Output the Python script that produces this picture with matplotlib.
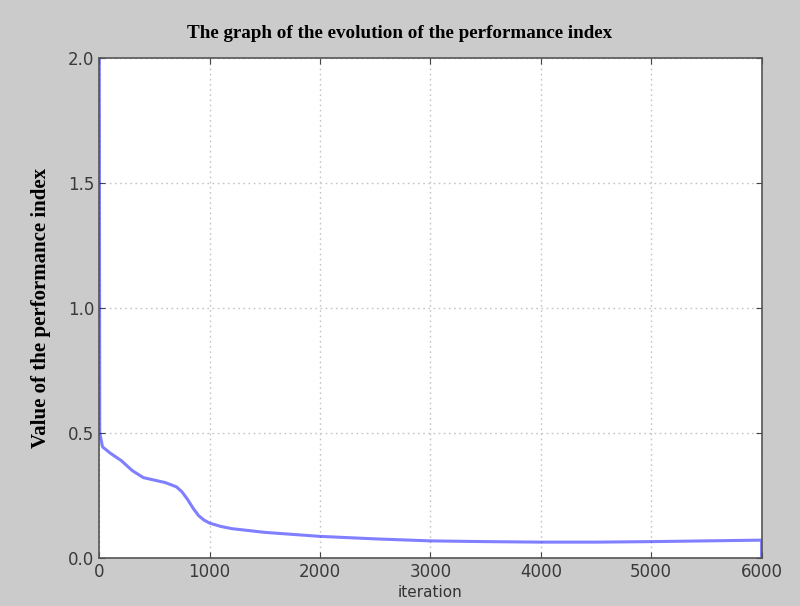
import matplotlib
matplotlib.use("Agg")
import matplotlib.pyplot as plt

iterations = [0, 5, 30, 100, 200, 300, 400, 500, 600, 700, 750, 800, 850, 900, 950,
              1000, 1100, 1200, 1500, 2000, 2500, 3000, 3500, 4000, 4500, 5000,
              5500, 6000, 6000]
perf_index = [2.3, 0.50, 0.445, 0.42, 0.39, 0.35, 0.322, 0.312, 0.302, 0.285, 0.265,
              0.235, 0.20, 0.17, 0.152, 0.14, 0.127, 0.118, 0.103, 0.087, 0.077,
              0.069, 0.066, 0.064, 0.064, 0.066, 0.069, 0.072, 0.0]
x_ticks = [0, 1000, 2000, 3000, 4000, 5000, 6000]
y_ticks = [0.0, 0.5, 1.0, 1.5, 2.0]

fig = plt.figure(figsize=(8.0, 6.06), dpi=100, facecolor="#cbcbcb")
ax = fig.add_axes([0.124, 0.079, 0.828, 0.825])
ax.set_facecolor("white")
ax.plot(iterations, perf_index, color="blue", alpha=0.5, linewidth=2.2)
ax.set_xlim(0, 6000)
ax.set_ylim(0, 2.0)
ax.set_xticks(x_ticks)
ax.set_yticks(y_ticks)
ax.set_yticklabels([f"{v:.1f}" for v in y_ticks])
ax.grid(True, linestyle=(0, (1.2, 2.5)), color="#c4c4c4", linewidth=1.0)
ax.tick_params(direction="in", length=4, top=True, right=True,
               labelsize=12, labelcolor="#3a3a3a", color="#444444")
for s in ax.spines.values():
    s.set_color("#555555")
    s.set_linewidth(1.2)

fig.text(0.5, 1 - 33 / 606, "The graph of the evolution of the performance index",
         family="Liberation Serif", fontweight="bold", fontsize=13.7,
         ha="center", va="center")
ax.set_ylabel("Value of the performance index", family="Liberation Serif",
              fontweight="bold", fontsize=15, labelpad=12)
ax.set_xlabel("iteration", fontsize=11, color="#333333", labelpad=3)

fig.savefig("out.png", dpi=100, facecolor=fig.get_facecolor())
